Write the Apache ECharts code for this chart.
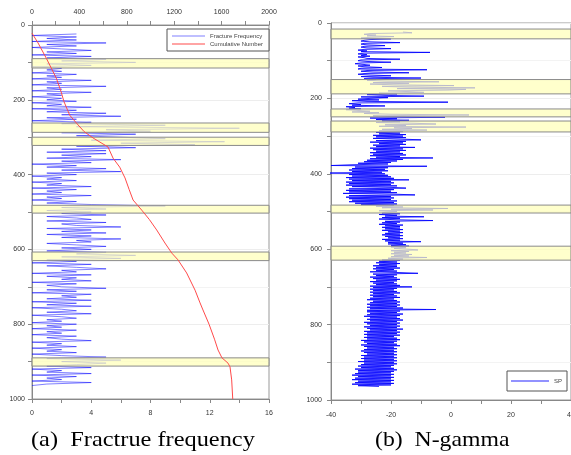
<!DOCTYPE html>
<html>
<head>
<meta charset="utf-8">
<script src="https://cdn.jsdelivr.net/npm/echarts@6/dist/echarts.min.js"></script>
<style>
	html, body { margin: 0; padding: 0; background: #fff; }
	#chart { width: 571px; height: 455px; }
</style>
</head>
<body>
<div id="chart"></div>
<script>
/**
 * 钻孔曲线：(a) 裂隙频率 + 累计数，(b) N-gamma (SP)。
 */

// 裂隙频率：从 freqDepthStart 开始每 freqDepthStep 米一个点（下轴 0-16）
var freqDepthStart = 24;
var freqDepthStep = 4;
var freqValues = [
	3,0,3,1,3,0,5,1,3,0,
	2,4,1,3,0,4,1,5,2,7,
	1,4,0,2,1,2,0,3,1,2,
	0,4,1,2,0,5,1,2,0,4,
	1,2,0,2,1,3,0,2,1,4,
	0,3,1,5,2,6,1,3,0,4,
	2,9,3,14,5,8,2,7,3,6,
	9,4,13,6,11,3,7,2,5,1,
	5,2,4,1,6,2,4,0,3,1,
	5,2,6,1,3,0,2,1,3,0,
	2,1,4,0,3,1,2,0,4,1,
	2,0,3,1,4,9,2,5,1,4,
	2,5,1,3,4,1,5,2,3,6,
	1,4,2,5,1,4,2,6,3,4,
	1,3,5,2,4,1,5,3,7,2,
	6,1,3,0,4,1,3,5,2,3,
	0,4,1,3,2,4,0,3,1,2,
	5,1,3,0,4,2,3,1,4,0,
	3,1,4,0,2,3,1,4,0,2,
	3,1,2,0,3,1,2,0,3,1,
	2,0,3,1,2,4,0,2,1,3,
	0,2,1,3,0,2,5,1,6,2,
	5,3,1,4,0,2,1,4,0,3,
	1,2,0,4,1,0
];

// 累计裂隙数（上轴 0-2000）
var cumDepths = [22, 48, 89, 142, 178, 205, 241, 267, 285, 302, 326, 356, 380, 409, 440, 468, 495, 520, 548, 583, 610, 628, 663, 709, 743, 762, 800, 840, 869, 890, 904, 914, 949, 1000];
var cumCounts = [0, 51, 121, 205, 245, 270, 318, 388, 440, 515, 641, 684, 740, 785, 820, 853, 926, 990, 1052, 1122, 1180, 1232, 1305, 1376, 1418, 1443, 1494, 1540, 1570, 1603, 1654, 1671, 1685, 1694];

// N-gamma / SP：从 spDepthStart 开始每 spDepthStep 米一个点（下轴 -40 ~ 40）
var spDepthStart = 24;
var spDepthStep = 2;
var spValues = [
	-16,-13,-27,-29,-25,-28,-19,-27,-30,-20,
	-27,-29,-30,-27,-17,-29,-30,-28,-22,-29,
	-30,-28,-20,-29,-31,-28,-30,-7,-29,-31,
	-28,-30,-27,-31,-29,-28,-17,-30,-31,-28,
	-20,-30,-32,-29,-27,-31,-29,-23,-30,-31,
	-8,-28,-30,-26,-14,-29,-31,-27,-20,-30,
	-26,-10,-29,-25,-28,-22,-4,-26,-14,-27,
	-19,1,-23,-15,8,-18,5,-1,-21,-14,
	-9,-24,-18,-28,-22,-9,-30,-21,-27,-31,
	-24,-33,-28,-1,-31,-34,-30,-33,-22,-35,
	-32,-34,-30,-35,-31,-27,-33,-24,-29,-20,
	6,-26,-21,-2,-27,-18,-25,-14,-23,-17,
	-25,-12,-5,-22,-15,-24,5,-19,-13,-23,
	-8,-24,-16,-25,-17,-24,-15,-26,-16,-25,
	-15,-26,-16,-10,-25,-15,-27,-16,-24,-15,
	-26,-17,-25,-12,-27,-16,-26,-15,-25,-17,
	-27,-16,-26,-15,-27,-17,-25,-6,-27,-16,
	-28,-18,-29,-20,-31,-21,-33,-40,-8,-32,
	-21,-33,-22,-34,-21,-33,-23,-41,-22,-34,
	-21,-33,-20,-35,-19,-34,-14,-33,-20,-35,
	-19,-34,-20,-35,-18,-33,-20,-15,-34,-19,
	-35,-20,-34,-18,-36,-19,-12,-34,-20,-35,
	-19,-34,-20,-33,-18,-34,-19,-32,-18,-30,
	-19,-25,-16,-23,-1,-20,-6,-24,-18,-22,
	-23,-17,-24,-18,-22,-9,-23,-17,-24,-18,
	-6,-22,-17,-23,-18,-24,-16,-22,-17,-23,
	-17,-22,-16,-23,-17,-21,-16,-22,-17,-23,
	-16,-22,-17,-21,-16,-23,-17,-22,-10,-21,
	-16,-21,-15,-20,-14,-20,-15,-19,-14,-11,
	-20,-14,-19,-15,-20,-13,-19,-14,-20,-8,
	-21,-16,-23,-17,-24,-18,-25,-17,-24,-18,
	-26,-18,-25,-17,-26,-19,-25,-18,-27,-17,
	-11,-26,-18,-25,-19,-27,-18,-26,-17,-25,
	-18,-27,-19,-26,-18,-25,-17,-27,-13,-26,
	-18,-27,-19,-26,-18,-27,-17,-26,-19,-27,
	-18,-26,-17,-27,-19,-28,-18,-26,-17,-27,
	-18,-28,-17,-27,-18,-28,-16,-27,-5,-28,
	-17,-28,-18,-27,-16,-28,-17,-29,-18,-27,
	-17,-28,-16,-27,-18,-29,-17,-28,-18,-27,
	-17,-29,-18,-28,-16,-27,-18,-29,-17,-28,
	-18,-29,-17,-28,-19,-29,-18,-28,-17,-30,
	-18,-29,-19,-28,-18,-30,-17,-29,-19,-28,
	-18,-29,-19,-30,-18,-29,-19,-28,-18,-30,
	-19,-29,-18,-30,-19,-29,-18,-31,-19,-29,
	-18,-30,-19,-31,-20,-30,-19,-32,-18,-31,
	-19,-31,-20,-32,-19,-33,-20,-31,-19,-32,
	-20,-33,-19,-31,-20,-32,-19,-33,-20,-31,
	-24
];

// 高亮深度段 [上, 下]
var freqBands = [[90, 115], [262, 287], [300, 322], [482, 503], [607, 630], [890, 912]];
var spBands = [[16, 42], [150, 188], [228, 249], [260, 289], [483, 504], [592, 629]];

var captions = ["(a)  Fractrue frequency", "(b)  N-gamma"];

(function(window)
{
	var AXIS_COLOR = "#888";
	var LABEL_COLOR = "#333";
	var SANS = "'Liberation Sans', Arial, sans-serif";
	var SERIF = "'Liberation Serif', 'Times New Roman', serif";

	var toDepthPairs = function(values, start, step)
	{
		var re = [];
		for(var i=0; i<values.length; i++)
			re.push([values[i], start + i*step]);
		return re;
	};

	var toBandData = function(bands)
	{
		var re = [];
		for(var i=0; i<bands.length; i++)
			re.push([{ yAxis: bands[i][0] }, { yAxis: bands[i][1] }]);
		return re;
	};

	var cumData = [];
	for(var i=0; i<cumDepths.length; i++)
		cumData.push([cumCounts[i], cumDepths[i]]);

	var valueAxis = function(gridIndex, position, min, max, interval, margin)
	{
		return {
			type: "value",
			gridIndex: gridIndex,
			position: position,
			min: min,
			max: max,
			interval: interval,
			axisLine: { show: true, onZero: false, lineStyle: { color: AXIS_COLOR, width: 1 } },
			axisTick: { show: true, length: 4, lineStyle: { color: AXIS_COLOR } },
			minorTick: { show: true, splitNumber: 2, length: 4, lineStyle: { color: AXIS_COLOR } },
			axisLabel:
			{
				color: LABEL_COLOR, fontSize: 7, fontFamily: SANS, margin: margin,
				formatter: function(v){ return String(v); }
			},
			splitLine: { show: false }
		};
	};

	var depthAxis = function(gridIndex, margin)
	{
		var axis = valueAxis(gridIndex, "left", 0, 1000, 200, margin);
		axis.inverse = true;
		axis.splitLine = { show: true, lineStyle: { color: "#ededed", width: 1 } };
		axis.minorSplitLine = { show: true, lineStyle: { color: "#f3f3f3", width: 1 } };
		return axis;
	};

	var bandStyle =
	{
		color: "rgba(255,255,185,0.72)",
		borderColor: "#8a8a8a",
		borderWidth: 1
	};

	var legendCommon = function(o)
	{
		o.orient = "vertical";
		o.itemHeight = 1;
		o.icon = "rect";
		o.borderColor = "#555";
		o.borderWidth = 1;
		o.backgroundColor = "#fff";
		o.textStyle = { fontSize: 6, color: "#444", fontFamily: SANS };
		return o;
	};

	var option =
	{
		animation: false,
		backgroundColor: "#fff",
		grid:
		[
			{ left: 32, top: 25, width: 237, height: 374, show: true, borderColor: "#999", borderWidth: 1, outerBoundsMode: "none" },
			{ left: 331, top: 23, width: 240, height: 377, show: true, borderColor: "#999", borderWidth: 1, outerBoundsMode: "none" }
		],
		xAxis:
		[
			valueAxis(0, "bottom", 0, 16, 4, 11),
			valueAxis(0, "top", 0, 2000, 400, 9),
			valueAxis(1, "bottom", -40, 40, 20, 12)
		],
		yAxis: [ depthAxis(0, 7), depthAxis(1, 9) ],
		legend:
		[
			legendCommon({
				data: ["Fracture Frequency", "Cumulative Number"],
				left: 167,
				top: 29,
				padding: [4, 6, 4, 5],
				itemGap: 2,
				itemWidth: 33
			}),
			legendCommon({
				data: ["SP"],
				left: 507,
				top: 371,
				padding: [7, 5, 7, 4],
				itemWidth: 38
			})
		],
		series:
		[
			{
				name: "Fracture Frequency",
				type: "line",
				xAxisIndex: 0,
				yAxisIndex: 0,
				data: toDepthPairs(freqValues, freqDepthStart, freqDepthStep),
				showSymbol: false,
				symbol: "none",
				color: "rgba(0,0,255,0.5)",
				lineStyle: { color: "rgba(0,0,255,0.5)", width: 1 },
				z: 2,
				markArea: { silent: true, z: 5, itemStyle: bandStyle, data: toBandData(freqBands) }
			},
			{
				name: "Cumulative Number",
				type: "line",
				xAxisIndex: 1,
				yAxisIndex: 0,
				data: cumData,
				showSymbol: false,
				symbol: "none",
				color: "#ff4a4a",
				lineStyle: { color: "#ff4a4a", width: 1 },
				z: 6
			},
			{
				name: "SP",
				type: "line",
				xAxisIndex: 2,
				yAxisIndex: 1,
				data: toDepthPairs(spValues, spDepthStart, spDepthStep),
				showSymbol: false,
				symbol: "none",
				color: "rgba(0,0,255,0.85)",
				lineStyle: { color: "rgba(0,0,255,0.85)", width: 1, join: "bevel" },
				z: 2,
				markArea: { silent: true, z: 5, itemStyle: bandStyle, data: toBandData(spBands) }
			}
		],
		graphic:
		[
			{
				type: "text",
				x: 31,
				y: 430,
				scaleX: 1.16,
				style: { text: captions[0], fontSize: 21, fontFamily: SERIF, fill: "#000", verticalAlign: "top" }
			},
			{
				type: "text",
				x: 375,
				y: 430,
				scaleX: 1.13,
				style: { text: captions[1], fontSize: 21, fontFamily: SERIF, fill: "#000", verticalAlign: "top" }
			}
		]
	};

	var chart = echarts.init(document.getElementById("chart"), null, { renderer: "canvas" });
	chart.setOption(option);
})
(window);
</script>
</body>
</html>
